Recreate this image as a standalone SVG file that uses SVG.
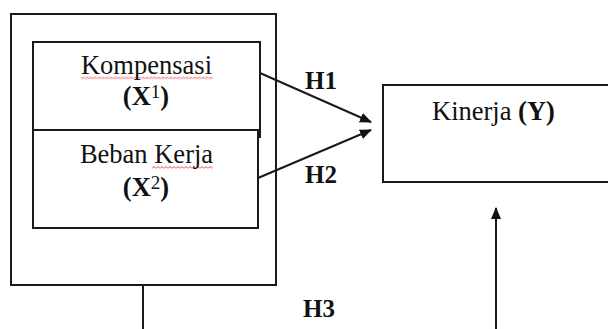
<svg xmlns="http://www.w3.org/2000/svg" width="608" height="329" viewBox="0 0 608 329">
<style>
  .box{fill:none;stroke:#1a1a1a;stroke-width:2}
  .line{fill:none;stroke:#1a1a1a;stroke-width:2}
  .t{font-family:"Liberation Serif","Times New Roman",serif;fill:#111;font-size:26.5px}
  .b{font-weight:bold}
  .h{font-family:"Liberation Serif","Times New Roman",serif;fill:#111;font-size:25px;font-weight:bold}
</style>
<defs>
  <marker id="arr" markerWidth="12" markerHeight="12" refX="11" refY="6" orient="auto" markerUnits="userSpaceOnUse">
    <path d="M0,1 L12,6 L0,11 Z" fill="#111"/>
  </marker>
  <pattern id="sq1" x="81" y="76.5" width="4" height="3" patternUnits="userSpaceOnUse">
    <path d="M0,2.5 L2,0.5 L4,2.5" fill="none" stroke="#e03030" stroke-width="0.9"/>
  </pattern>
  <pattern id="sq2" x="152" y="166" width="4" height="3" patternUnits="userSpaceOnUse">
    <path d="M0,2.5 L2,0.5 L4,2.5" fill="none" stroke="#e03030" stroke-width="0.9"/>
  </pattern>
</defs>
<rect width="608" height="329" fill="#fff"/>
<g id="outer">
  <rect class="box" x="11" y="14" width="265" height="271"/>
</g>
<g id="kompensasi">
  <rect class="box" x="33" y="42" width="227" height="88"/>
  <line class="line" x1="260" y1="130" x2="260" y2="138"/>
  <rect x="81" y="76.5" width="132" height="3" fill="url(#sq1)"/>
  <text class="t" x="146.5" y="74" text-anchor="middle">Kompensasi</text>
  <text class="t b" x="146" y="105" text-anchor="middle">(X<tspan font-size="19" dy="-7.5" font-weight="normal">1</tspan><tspan dy="7.5">)</tspan></text>
</g>
<g id="beban">
  <rect class="box" x="33" y="130" width="225" height="98"/>
  <rect x="152" y="166" width="61" height="3" fill="url(#sq2)"/>
  <text class="t" x="146.5" y="163" text-anchor="middle">Beban Kerja</text>
  <text class="t b" x="146" y="196" text-anchor="middle">(X<tspan font-size="19" dy="-7.5" font-weight="normal">2</tspan><tspan dy="7.5">)</tspan></text>
</g>
<g id="kinerja">
  <rect class="box" x="383" y="85" width="240" height="97"/>
  <text class="t" x="432" y="120">Kinerja <tspan class="b">(Y)</tspan></text>
</g>
<g id="connectors">
  <line class="line" x1="260" y1="73" x2="371" y2="122" marker-end="url(#arr)"/>
  <line class="line" x1="258" y1="178" x2="371" y2="130" marker-end="url(#arr)"/>
  <line class="line" x1="143" y1="285" x2="143" y2="329"/>
  <line class="line" x1="496" y1="329" x2="496" y2="208" marker-end="url(#arr)"/>
</g>
<g id="labels">
  <text class="h" x="305" y="89">H1</text>
  <text class="h" x="305" y="183">H2</text>
  <text class="h" x="303" y="317">H3</text>
</g>
</svg>
